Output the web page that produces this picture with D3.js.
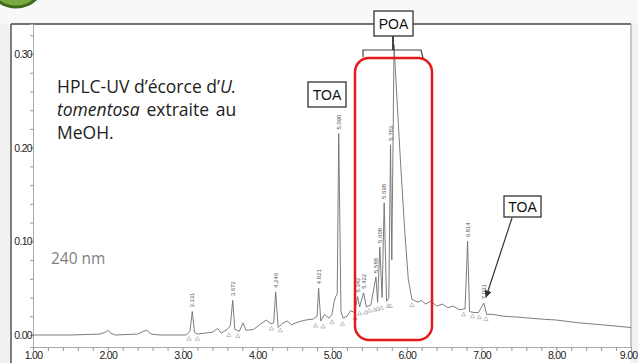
<!DOCTYPE html>
<html>
<head>
<meta charset="utf-8">
<script src="https://cdnjs.cloudflare.com/ajax/libs/d3/7.8.5/d3.min.js"></script>
<style>
  body { margin: 0; background: #f1f1f1; }
  svg { display: block; }
</style>
</head>
<body>
<div id="chart"></div>
<script>
// chromatogram trace, retention time (min) / absorbance (AU)
var traceTimes = [1.00, 1.50, 1.90, 1.97, 2.00, 2.04, 2.10, 2.40, 2.48, 2.52, 2.58, 2.70, 3.05, 3.10, 3.131, 3.16, 3.20, 3.40, 3.47, 3.52,
  3.60, 3.64, 3.672, 3.70, 3.76, 3.81, 3.85, 3.95, 4.05, 4.12, 4.18, 4.22, 4.246, 4.28, 4.33, 4.40, 4.46, 4.55, 4.65, 4.75,
  4.80, 4.821, 4.85, 4.90, 4.96, 5.00, 5.03, 5.05, 5.07, 5.09, 5.12, 5.15, 5.20, 5.25, 5.30, 5.342, 5.37, 5.422, 5.46, 5.52,
  5.588, 5.61, 5.64, 5.67, 5.698, 5.73, 5.76, 5.783, 5.80, 5.83, 5.87, 5.92, 5.97, 6.02, 6.07, 6.10, 6.15, 6.20, 6.25, 6.32,
  6.40, 6.48, 6.55, 6.62, 6.70, 6.78, 6.814, 6.84, 6.90, 6.96, 7.031, 7.07, 7.15, 7.30, 7.50, 7.80, 8.00, 8.30, 8.60, 9.00];
var traceValues = [0.000, 0.000, 0.001, 0.003, 0.005, 0.002, 0.000, 0.001, 0.004, 0.005, 0.001, 0.000, 0.000, 0.004, 0.025, 0.003, 0.001, 0.003, 0.007, 0.002,
  0.006, 0.010, 0.037, 0.006, 0.004, 0.013, 0.005, 0.006, 0.012, 0.016, 0.012, 0.013, 0.046, 0.008, 0.012, 0.015, 0.011, 0.014, 0.016, 0.017,
  0.020, 0.050, 0.015, 0.022, 0.018, 0.022, 0.036, 0.041, 0.044, 0.215, 0.025, 0.018, 0.020, 0.026, 0.024, 0.041, 0.030, 0.045, 0.030, 0.032,
  0.062, 0.035, 0.094, 0.040, 0.141, 0.036, 0.040, 0.203, 0.080, 0.310, 0.250, 0.180, 0.115, 0.060, 0.038, 0.037, 0.035, 0.037, 0.033, 0.036,
  0.031, 0.033, 0.029, 0.031, 0.027, 0.028, 0.100, 0.025, 0.024, 0.024, 0.034, 0.022, 0.022, 0.020, 0.019, 0.017, 0.016, 0.013, 0.011, 0.008];

// integrated peaks
var peakTimes = [3.131, 3.672, 4.246, 4.821, 5.090, 5.342, 5.422, 5.588, 5.640, 5.698, 5.783, 6.814, 7.031];
var peakHeights = [0.025, 0.037, 0.046, 0.050, 0.215, 0.041, 0.045, 0.062, 0.094, 0.141, 0.203, 0.100, 0.034];
var peakLabels = ["3.131", "3.672", "4.246", "4.821", "5.090", "5.342", "5.422", "5.588", "5.608", "5.698", "5.783", "6.814", "7.031"];

// baseline start/end markers
var markerTimes = [3.09, 3.20, 3.62, 3.74, 4.19, 4.31, 4.78, 4.88, 5.00, 5.14, 5.31, 5.37, 5.45, 5.50, 5.57, 5.61, 5.66, 5.75, 5.78, 6.07, 6.76, 6.88, 6.97, 7.06];
var markerValues = [0.000, 0.000, 0.004, 0.003, 0.011, 0.009, 0.014, 0.013, 0.018, 0.016, 0.022, 0.027, 0.028, 0.030, 0.031, 0.032, 0.033, 0.035, 0.035, 0.036, 0.026, 0.024, 0.023, 0.021];

var xTickValues = [1, 2, 3, 4, 5, 6, 7, 8, 9];
var yTickValues = [0.00, 0.10, 0.20, 0.30];

var w = 638, h = 363;

var svg = d3.select("#chart").append("svg")
  .attr("width", w)
  .attr("height", h);

// slide background bits
svg.append("rect").attr("x", 0).attr("y", 0).attr("width", w).attr("height", 24).attr("fill", "#f8f8f8");
svg.append("rect").attr("x", 11).attr("y", 24).attr("width", 620).attr("height", h - 24).attr("fill", "#ffffff");
svg.append("circle").attr("cx", 16).attr("cy", -22).attr("r", 29)
  .attr("fill", "#7aa83c").attr("stroke", "#3e6a1c").attr("stroke-width", 3);

var x = d3.scaleLinear().domain([1, 9]).range([33, 631]);
var y = d3.scaleLinear().domain([-0.0128, 0.332]).range([347, 24]);

// frame
svg.append("line").attr("x1", 11).attr("x2", 631).attr("y1", 24).attr("y2", 24)
  .attr("stroke", "#444").attr("stroke-width", 1.5);
svg.append("line").attr("x1", 11).attr("x2", 11).attr("y1", 24).attr("y2", h)
  .attr("stroke", "#555").attr("stroke-width", 1.5);
svg.append("line").attr("x1", 631).attr("x2", 631).attr("y1", 24).attr("y2", 347)
  .attr("stroke", "#999").attr("stroke-width", 1);

// axes
var yAxis = d3.axisLeft(y)
  .tickValues(d3.range(0, 0.3301, 0.02))
  .tickSize(3)
  .tickFormat(function(d) { return yTickValues.some(function(v) { return Math.abs(v - d) < 1e-6; }) ? d3.format(".2f")(d) : ""; });

var gy = svg.append("g")
  .attr("transform", "translate(33,0)")
  .call(yAxis);
gy.select(".domain").attr("stroke", "#aaa");
gy.selectAll(".tick line").attr("stroke", "#999");
gy.selectAll(".tick text")
  .attr("x", -1)
  .attr("font-family", "Liberation Sans, Arial, sans-serif")
  .attr("font-size", 10.5)
  .attr("letter-spacing", -0.7)
  .attr("fill", "#222");

var xAxis = d3.axisBottom(x)
  .tickValues(d3.range(1, 9.001, 0.2))
  .tickSize(4)
  .tickFormat(function(d) { return xTickValues.some(function(v) { return Math.abs(v - d) < 1e-6; }) ? d3.format(".2f")(d) : ""; });

var gx = svg.append("g")
  .attr("transform", "translate(0,347)")
  .call(xAxis);
gx.select(".domain").attr("stroke", "#aaa");
gx.selectAll(".tick line").attr("stroke", "#999");
gx.selectAll(".tick text")
  .attr("y", 5)
  .attr("font-family", "Liberation Sans, Arial, sans-serif")
  .attr("font-size", 10.5)
  .attr("letter-spacing", -0.7)
  .attr("fill", "#222");
// keep the last label inside the page
gx.selectAll(".tick text")
  .filter(function(d) { return Math.abs(d - 9) < 1e-6; })
  .attr("text-anchor", "end")
  .attr("x", 6);

// trace
var traceData = traceTimes.map(function(t, i) { return [t, traceValues[i]]; });
var line = d3.line()
  .x(function(d) { return x(d[0]); })
  .y(function(d) { return y(d[1]); });

svg.append("path")
  .datum(traceData)
  .attr("d", line)
  .attr("fill", "none")
  .attr("stroke", "#6e6e6e")
  .attr("stroke-width", 0.9);

// baseline markers
svg.append("g").selectAll("path")
  .data(markerTimes)
  .enter()
  .append("path")
  .attr("d", d3.symbol().type(d3.symbolTriangle).size(8))
  .attr("transform", function(d, i) { return "translate(" + x(d) + "," + (y(markerValues[i]) + 4) + ")"; })
  .attr("fill", "none")
  .attr("stroke", "#888")
  .attr("stroke-width", 0.5);

// peak labels
svg.append("g").selectAll("text")
  .data(peakTimes)
  .enter()
  .append("text")
  .attr("transform", function(d, i) { return "translate(" + (x(d) + 2) + "," + (y(peakHeights[i]) - 4) + ") rotate(-90)"; })
  .attr("font-family", "Liberation Sans, Arial, sans-serif")
  .attr("font-size", 6)
  .attr("fill", "#555")
  .text(function(d, i) { return peakLabels[i]; });

// red highlight zone
svg.append("rect")
  .attr("x", 355).attr("y", 58).attr("width", 77).attr("height", 282)
  .attr("rx", 14)
  .attr("fill", "none")
  .attr("stroke", "#e3191c")
  .attr("stroke-width", 2.5);

// POA bracket
svg.append("path")
  .attr("d", "M363,57 L363,50 L421,50 L423,58")
  .attr("fill", "none").attr("stroke", "#444").attr("stroke-width", 1.2);
svg.append("line").attr("x1", 393).attr("x2", 393).attr("y1", 36).attr("y2", 50)
  .attr("stroke", "#333").attr("stroke-width", 1.8);

// annotation boxes
var boxes = [
  { label: "POA", x: 374, y: 11, w: 39, h: 25 },
  { label: "TOA", x: 308, y: 82, w: 38, h: 25 },
  { label: "TOA", x: 504, y: 196, w: 37, h: 21 }
];
var boxG = svg.append("g").selectAll("g")
  .data(boxes)
  .enter()
  .append("g");
boxG.append("rect")
  .attr("x", function(d) { return d.x; })
  .attr("y", function(d) { return d.y; })
  .attr("width", function(d) { return d.w; })
  .attr("height", function(d) { return d.h; })
  .attr("fill", "#fff")
  .attr("stroke", "#333")
  .attr("stroke-width", 1.3);
boxG.append("text")
  .attr("x", function(d) { return d.x + d.w / 2; })
  .attr("y", function(d) { return d.y + d.h / 2 + 5; })
  .attr("text-anchor", "middle")
  .attr("font-family", "Liberation Sans, Arial, sans-serif")
  .attr("font-size", 14)
  .attr("fill", "#111")
  .text(function(d) { return d.label; });

// arrow to minor TOA
svg.append("defs").append("marker")
  .attr("id", "arr")
  .attr("viewBox", "0 0 10 10")
  .attr("refX", 9).attr("refY", 5)
  .attr("markerWidth", 6).attr("markerHeight", 6)
  .attr("orient", "auto")
  .append("path").attr("d", "M0,0 L10,5 L0,10 z").attr("fill", "#333");
svg.append("line")
  .attr("x1", 512).attr("y1", 218).attr("x2", 486).attr("y2", 297)
  .attr("stroke", "#333").attr("stroke-width", 1.2)
  .attr("marker-end", "url(#arr)");

// description text
var desc = svg.append("g")
  .attr("font-family", "Open Sans, sans-serif")
  .attr("font-size", 17.5)
  .attr("fill", "#222");
var t1 = desc.append("text").attr("x", 57).attr("y", 93);
t1.append("tspan").text("HPLC-UV d’écorce d’");
t1.append("tspan").attr("font-style", "italic").text("U.");
var t2 = desc.append("text").attr("x", 57).attr("y", 116);
t2.append("tspan").attr("font-style", "italic").text("tomentosa");
t2.append("tspan").text(" extraite au");
desc.append("text").attr("x", 57).attr("y", 139).text("MeOH.");

// justify second line to the first
var w1 = t1.node().getComputedTextLength();
var w2 = t2.node().getComputedTextLength();
t2.attr("word-spacing", Math.max(0, (w1 - w2) / 2));

svg.append("text")
  .attr("x", 51).attr("y", 264)
  .attr("font-family", "Open Sans, sans-serif")
  .attr("font-size", 15.5)
  .attr("fill", "#808080")
  .text("240 nm");
</script>
</body>
</html>
